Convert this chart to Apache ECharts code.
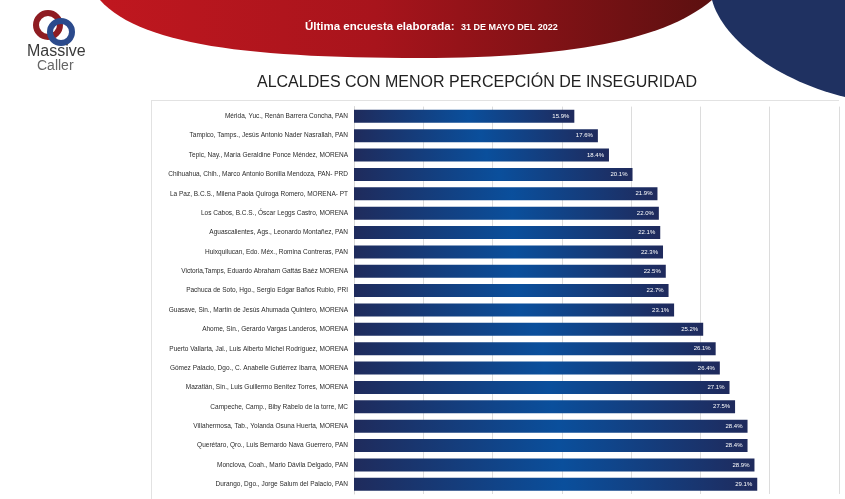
<!DOCTYPE html>
<html><head><meta charset="utf-8">
<script src="https://cdn.jsdelivr.net/npm/echarts@6/dist/echarts.min.js"></script>
<style>html,body{margin:0;padding:0;background:#fff}#c{width:845px;height:499px}</style>
</head><body><div id="c"></div>
<script>
var categories = [
"Mérida, Yuc., Renán Barrera Concha, PAN",
"Tampico, Tamps., Jesús Antonio Nader Nasrallah, PAN",
"Tepic, Nay., María Geraldine Ponce Méndez, MORENA",
"Chihuahua, Chih., Marco Antonio Bonilla Mendoza, PAN- PRD",
"La Paz, B.C.S., Milena Paola Quiroga Romero, MORENA- PT",
"Los Cabos, B.C.S., Óscar Leggs Castro, MORENA",
"Aguascalientes, Ags., Leonardo Montañez, PAN",
"Huixquilucan, Edo. Méx., Romina Contreras, PAN",
"Victoria,Tamps, Eduardo Abraham Gattás Baéz MORENA",
"Pachuca de Soto, Hgo., Sergio Edgar Baños Rubio, PRI",
"Guasave, Sin., Martín de Jesús Ahumada Quintero, MORENA",
"Ahome, Sin., Gerardo Vargas Landeros, MORENA",
"Puerto Vallarta, Jal., Luis Alberto Michel Rodríguez, MORENA",
"Gómez Palacio, Dgo., C. Anabelle Gutiérrez Ibarra, MORENA",
"Mazatlán, Sin., Luis Guillermo Benítez Torres, MORENA",
"Campeche, Camp., Biby Rabelo de la torre, MC",
"Villahermosa, Tab., Yolanda Osuna Huerta, MORENA",
"Querétaro, Qro., Luis Bernardo Nava Guerrero, PAN",
"Monclova, Coah., Mario Dávila Delgado, PAN",
"Durango, Dgo., Jorge Salum del Palacio, PAN"
];
var values = [15.9, 17.6, 18.4, 20.1, 21.9, 22.0, 22.1, 22.3, 22.5, 22.7, 23.1, 25.2, 26.1, 26.4, 27.1, 27.5, 28.4, 28.4, 28.9, 29.1];
var axisTicks = [0, 5, 10, 15, 20, 25, 30, 35];

function bez(p0, p1, p2, p3, n) {
  var pts = [];
  for (var i = 0; i <= n; i++) {
    var t = i / n, u = 1 - t;
    pts.push([u*u*u*p0[0] + 3*u*u*t*p1[0] + 3*u*t*t*p2[0] + t*t*t*p3[0],
              u*u*u*p0[1] + 3*u*u*t*p1[1] + 3*u*t*t*p2[1] + t*t*t*p3[1]]);
  }
  return pts;
}
var redPts = bez([100,0],[140,45],[250,58],[420,58],30).concat(bez([420,58],[570,58],[665,40],[712,0],30));
var bluePts = bez([712,0],[722,38],[775,80],[845,97],30).concat([[845,0]]);

var chart = echarts.init(document.getElementById('c'));
var barGrad = new echarts.graphic.LinearGradient(0, 0, 1, 0, [
  {offset: 0, color: '#1f2b5c'},
  {offset: 0.52, color: '#0a4f9c'},
  {offset: 1, color: '#1f2a5c'}
]);
chart.setOption({
  animation: false,
  grid: {left: 354, right: 6, top: 106.6, bottom: 5, containLabel: false},
  xAxis: {
    type: 'value', min: axisTicks[0], max: axisTicks[axisTicks.length - 1], interval: 5,
    axisLabel: {show: false}, axisTick: {show: false}, axisLine: {show: false},
    splitLine: {lineStyle: {color: '#dcdcdc', width: 1}}
  },
  yAxis: {
    type: 'category', data: categories, inverse: true,
    axisTick: {show: false},
    axisLine: {lineStyle: {color: '#d6d6d6'}},
    axisLabel: {fontSize: 6.5, color: '#2a2a2a', fontFamily: 'Liberation Sans, Arial, sans-serif', margin: 6}
  },
  series: [{
    type: 'bar', data: values, barWidth: 13,
    itemStyle: {color: barGrad},
    label: {show: true, position: 'insideRight', distance: 5, color: '#fff', fontSize: 6,
      fontFamily: 'Liberation Sans, Arial, sans-serif',
      formatter: function (p) { return p.value.toFixed(1) + '%'; }}
  }],
  graphic: [
    {type: 'polygon', z: -1, shape: {points: redPts},
     style: {fill: new echarts.graphic.LinearGradient(0, 0, 1, 0, [{offset: 0, color: '#c0171f'}, {offset: 0.45, color: '#a8141c'}, {offset: 1, color: '#5c1010'}])}},
    {type: 'polygon', z: -1, shape: {points: bluePts}, style: {fill: '#1f3161'}},
    {type: 'text', left: 305, top: 21, style: {text: 'Última encuesta elaborada:', fill: '#fff', font: 'bold 11.5px Liberation Sans, Arial, sans-serif'}},
    {type: 'text', left: 461, top: 23, style: {text: '31 DE MAYO DEL 2022', fill: '#fff', font: 'bold 9px Liberation Sans, Arial, sans-serif'}},
    {type: 'text', x: 477, y: 83, style: {text: 'ALCALDES CON MENOR PERCEPCIÓN DE INSEGURIDAD', fill: '#222', align: 'center', verticalAlign: 'middle', font: '16px Liberation Sans, Arial, sans-serif'}},
    {type: 'line', shape: {x1: 151, y1: 100.5, x2: 839, y2: 100.5}, style: {stroke: '#e2e2e2', lineWidth: 1}},
    {type: 'line', shape: {x1: 151.5, y1: 100, x2: 151.5, y2: 499}, style: {stroke: '#e2e2e2', lineWidth: 1}},
    {type: 'circle', shape: {cx: 48, cy: 25, r: 12}, style: {fill: 'none', stroke: '#8e1c22', lineWidth: 6}},
    {type: 'circle', shape: {cx: 61, cy: 32, r: 11}, style: {fill: 'none', stroke: '#2b4a8c', lineWidth: 6}},
    {type: 'text', left: 27, top: 44, style: {text: 'Massive', fill: '#3a3a3a', font: '16px Liberation Sans, Arial, sans-serif'}},
    {type: 'text', left: 37, top: 59, style: {text: 'Caller', fill: '#666', font: '14px Liberation Sans, Arial, sans-serif'}}
  ]
});
</script></body></html>
